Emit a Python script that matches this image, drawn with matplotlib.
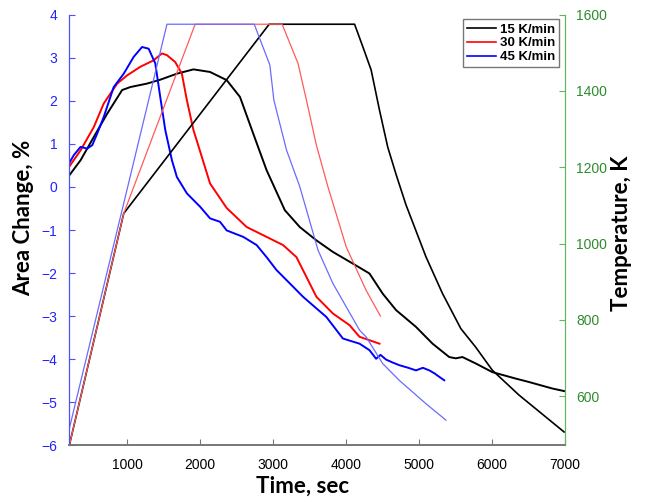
import matplotlib
matplotlib.use("Agg")
import matplotlib.pyplot as plt

# ---------------------------------------------------------------------------
# Data (time in s, area change in %, temperature in K)
# ---------------------------------------------------------------------------
area_t_15 = [209, 363, 544, 727, 932, 1045, 1273, 1454, 1682, 1909, 2136, 2364,
             2546, 2727, 2910, 3160, 3364, 3592, 3819, 4091, 4319, 4501, 4683,
             4956, 5183, 5411, 5500, 5592, 5775, 6001, 6321, 6503, 6821, 6984]
area_15 = [0.27, 0.62, 1.16, 1.70, 2.25, 2.32, 2.40, 2.49, 2.63, 2.73, 2.67, 2.48,
           2.09, 1.24, 0.39, -0.54, -0.93, -1.24, -1.51, -1.78, -2.01, -2.48, -2.86,
           -3.25, -3.64, -3.95, -3.98, -3.95, -4.10, -4.30, -4.45, -4.53, -4.68, -4.74]

area_t_30 = [203, 363, 544, 681, 864, 1000, 1181, 1363, 1477, 1546, 1659, 1750,
             1819, 1909, 2023, 2136, 2364, 2637, 2910, 3136, 3319, 3456, 3592,
             3819, 4046, 4183, 4456]
area_30 = [0.46, 0.85, 1.39, 1.94, 2.40, 2.59, 2.79, 2.94, 3.10, 3.06, 2.90, 2.63,
           2.01, 1.32, 0.70, 0.08, -0.49, -0.93, -1.16, -1.35, -1.63, -2.09, -2.55,
           -2.94, -3.21, -3.48, -3.64]

area_t_45 = [203, 271, 363, 454, 523, 591, 681, 817, 954, 1090, 1205, 1295, 1386,
             1454, 1523, 1614, 1682, 1819, 2000, 2136, 2273, 2364, 2591, 2774,
             2910, 3046, 3228, 3409, 3592, 3729, 3955, 4183, 4319, 4410, 4470,
             4547, 4640, 4729, 4850, 4956, 5050, 5138, 5210, 5275, 5343]
area_45 = [0.54, 0.74, 0.93, 0.89, 0.97, 1.24, 1.63, 2.32, 2.63, 3.02, 3.25, 3.21,
           2.87, 2.09, 1.32, 0.62, 0.23, -0.15, -0.46, -0.73, -0.81, -1.01, -1.16,
           -1.35, -1.63, -1.93, -2.24, -2.55, -2.82, -3.02, -3.52, -3.64, -3.79,
           -3.99, -3.90, -4.01, -4.08, -4.14, -4.20, -4.26, -4.20, -4.26, -4.33,
           -4.41, -4.49]

temp_t_15 = [209, 954, 2946, 4115, 4228, 4342, 4456, 4569, 4687, 4820, 5093, 5319,
             5570, 5775, 6001, 6365, 6984]
temp_15 = [471, 1079, 1575, 1575, 1516, 1455, 1350, 1253, 1179, 1101, 965, 869,
           777, 728, 668, 603, 506]

temp_t_30 = [209, 954, 1932, 3123, 3341, 3456, 3592, 3750, 4001, 4274, 4469]
temp_30 = [471, 1079, 1575, 1575, 1472, 1376, 1258, 1149, 991, 877, 810]

temp_t_45 = [209, 1546, 2741, 2955, 3010, 3183, 3365, 3614, 3819, 4183, 4274,
             4501, 4729, 5093, 5366]
temp_45 = [515, 1575, 1575, 1468, 1376, 1245, 1149, 983, 895, 773, 755, 685,
           641, 580, 537]

rate_labels = ["15 K/min", "30 K/min", "45 K/min"]

BLUE_AX = "#4d4dff"
GREEN_AX = "#5cb85c"
GREEN_TXT = "#2e8b2e"

# ---------------------------------------------------------------------------
# Figure
# ---------------------------------------------------------------------------
fig = plt.figure(figsize=(6.46, 4.98), dpi=100)
ax = fig.add_axes([0.1063, 0.1058, 0.7687, 0.8647])
ax2 = ax.twinx()

h1, = ax.plot(area_t_15, area_15, color="black", lw=1.4)
h2, = ax.plot(area_t_30, area_30, color="red", lw=1.4)
h3, = ax.plot(area_t_45, area_45, color="blue", lw=1.4)

ax2.plot(temp_t_15, temp_15, color="black", lw=1.2)
ax2.plot(temp_t_30, temp_30, color="#ff5a5a", lw=0.9)
ax2.plot(temp_t_45, temp_45, color="#6a6aff", lw=0.9)

ax.set_xlim(200, 7000)
ax.set_ylim(-6, 4)
ax2.set_ylim(471, 1600)
ax.set_xticks(range(1000, 7001, 1000))
ax.set_yticks(range(-6, 5))
ax2.set_yticks(range(600, 1601, 200))

tick_font = {"family": "Liberation Sans", "size": 10}
for lab in ax.get_xticklabels() + ax.get_yticklabels() + ax2.get_yticklabels():
    lab.set_fontproperties(tick_font)

ax.tick_params(axis="x", direction="in", length=4, color="#777777", pad=9)
ax.tick_params(axis="y", direction="in", length=4, color=BLUE_AX,
               labelcolor="#2222ff", pad=8)
ax2.tick_params(axis="y", direction="in", length=4, color=GREEN_AX,
                labelcolor=GREEN_TXT, pad=8)

for a in (ax, ax2):
    a.spines["top"].set_visible(False)
    a.spines["left"].set_color(BLUE_AX)
    a.spines["right"].set_color(GREEN_AX)
    a.spines["bottom"].set_color("#777777")
    a.spines["bottom"].set_linewidth(1.2)

# axis titles placed in figure pixels to match the reference
label_kw = dict(family="Lato", weight="bold", size=16, ha="center", va="center")
W, H = 646, 498
fig.text(303 / W, 1 - 486 / H, "Time, sec", **label_kw)
fig.text(24 / W, 1 - 218 / H, "Area Change, %", rotation=90, **label_kw)
fig.text(622 / W, 1 - 233 / H, "Temperature, K", rotation=90, **label_kw)

leg = ax2.legend([h1, h2, h3], rate_labels, loc="upper right",
                 bbox_to_anchor=(0.993, 0.995), fancybox=False,
                 prop={"family": "Liberation Sans", "weight": "bold", "size": 9.5},
                 handlelength=2.2, handletextpad=0.3, borderpad=0.3,
                 labelspacing=0.12, borderaxespad=0.2)
leg.get_frame().set_edgecolor("#555555")
leg.get_frame().set_linewidth(1.0)
for ln in leg.get_lines():
    ln.set_linewidth(1.2)

fig.savefig("out.png", dpi=100, facecolor="white")
